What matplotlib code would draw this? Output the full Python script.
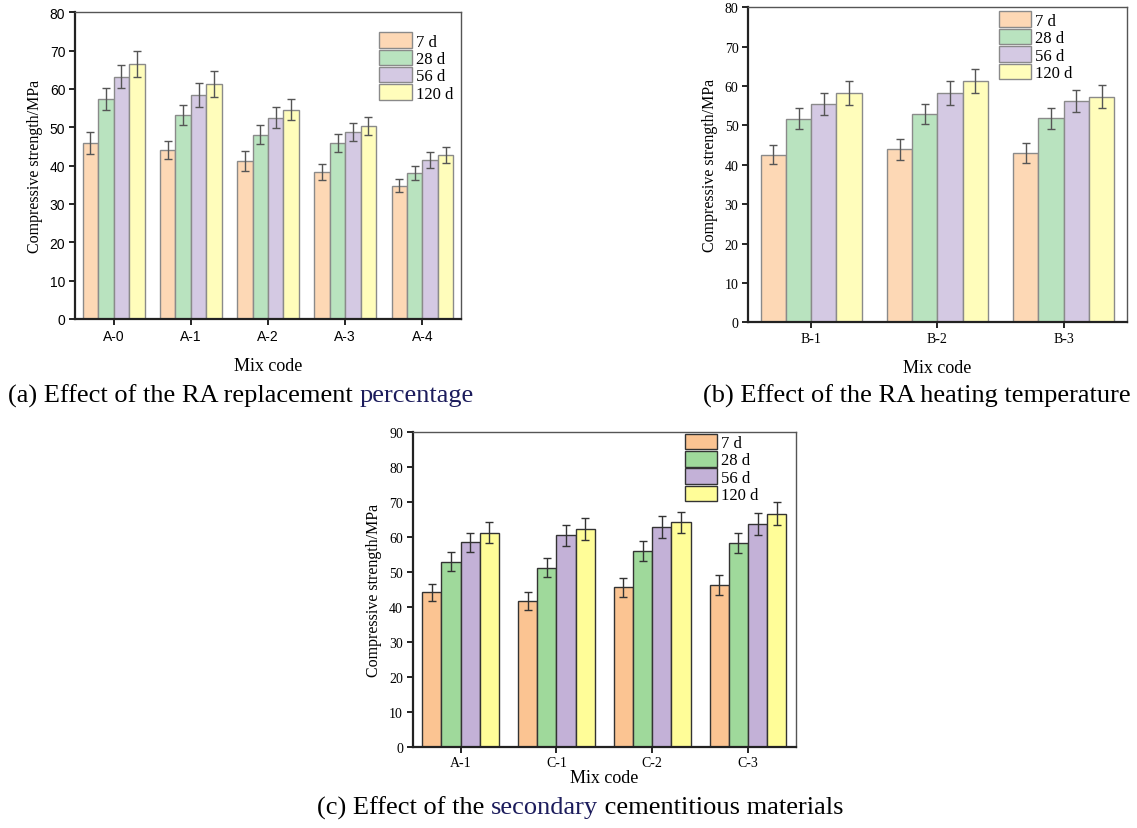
import numpy as np
import matplotlib.pyplot as plt
from matplotlib import transforms

plt.rcParams['font.family'] = ['Liberation Serif', 'DejaVu Serif']

ages = ['7 d', '28 d', '56 d', '120 d']

# (a) RA replacement percentage
mix_a = ['A-0', 'A-1', 'A-2', 'A-3', 'A-4']
val_a = [[46.0, 44.1, 41.2, 38.4, 34.8],
         [57.3, 53.2, 48.1, 45.9, 38.1],
         [63.2, 58.4, 52.5, 48.7, 41.4],
         [66.5, 61.3, 54.6, 50.3, 42.8]]
err_a = [[2.9, 2.3, 2.5, 2.1, 1.7],
         [2.9, 2.6, 2.4, 2.4, 1.8],
         [3.0, 3.1, 2.8, 2.3, 2.1],
         [3.4, 3.3, 2.8, 2.4, 2.0]]

# (b) RA heating temperature
mix_b = ['B-1', 'B-2', 'B-3']
val_b = [[42.6, 43.9, 43.0],
         [51.7, 52.9, 51.8],
         [55.5, 58.3, 56.2],
         [58.3, 61.3, 57.3]]
err_b = [[2.5, 2.7, 2.5],
         [2.6, 2.5, 2.6],
         [2.8, 3.0, 2.9],
         [3.0, 3.0, 2.9]]

# (c) secondary cementitious materials
mix_c = ['A-1', 'C-1', 'C-2', 'C-3']
val_c = [[44.1, 41.6, 45.5, 46.2],
         [52.9, 51.2, 56.0, 58.2],
         [58.4, 60.4, 62.7, 63.6],
         [61.2, 62.2, 64.1, 66.6]]
err_c = [[2.4, 2.5, 2.8, 2.8],
         [2.7, 2.7, 2.8, 2.9],
         [2.8, 3.0, 3.2, 3.2],
         [3.0, 3.1, 3.0, 3.2]]

pale = ['#fdd8b5', '#b9e3bf', '#d4c9e3', '#fffdbb']
bold = ['#fbc492', '#9fd99b', '#c3b1d7', '#fffd98']

fig = plt.figure(figsize=(11.37, 8.29), dpi=100)


def panel(rect, mix, vals, errs, colors, ymax, edge, ecol, tickfont, leg_anchor, xpad):
    ax = fig.add_axes(rect)
    x = np.arange(len(mix))
    w = 0.2
    for i in range(4):
        ax.bar(x + (i - 1.5) * w, vals[i], w, yerr=errs[i], color=colors[i],
               edgecolor=edge, linewidth=1.0, label=ages[i],
               error_kw=dict(ecolor=ecol, elinewidth=1.0, capsize=3, capthick=1.0))
    ax.set_xlim(-0.5, len(mix) - 0.5)
    ax.set_ylim(0, ymax)
    ax.set_yticks(np.arange(0, ymax + 1, 10))
    ax.set_xticks(x)
    ax.set_xticklabels(mix)
    for lab in ax.get_xticklabels() + ax.get_yticklabels():
        lab.set_family(tickfont)
        lab.set_fontsize(10)
    ax.tick_params(direction='out', length=4, width=1.2, pad=3)
    for s in ['left', 'bottom']:
        ax.spines[s].set_linewidth(1.6)
        ax.spines[s].set_color('#222222')
    for s in ['top', 'right']:
        ax.spines[s].set_linewidth(1.0)
        ax.spines[s].set_color('#555555')
    ax.set_xlabel('Mix code', fontsize=13, labelpad=xpad)
    ax.set_ylabel('Compressive strength/MPa', fontsize=11.5, labelpad=5)
    ax.legend(loc='upper left', bbox_to_anchor=leg_anchor, frameon=False,
              fontsize=12, handlelength=1.95, handleheight=1.05,
              labelspacing=0.0, handletextpad=0.25, borderpad=0,
              borderaxespad=0)
    return ax


panel([0.066, 0.614, 0.3395, 0.370], mix_a, val_a, err_a, pale, 80,
      '#8a8a8a', '#555555', ['Liberation Sans', 'DejaVu Sans'], (0.788, 0.935), 10)
panel([0.658, 0.610, 0.333, 0.380], mix_b, val_b, err_b, pale, 80,
      '#8a8a8a', '#555555', ['Liberation Serif'], (0.662, 0.987), 10)
panel([0.363, 0.098, 0.337, 0.380], mix_c, val_c, err_c, bold, 90,
      '#333333', '#333333', ['Liberation Serif'], (0.710, 0.994), 0)

navy = '#1c1c5c'
cap = 19


def caption(x, y, parts):
    # pieces of one caption drawn one after another, so a word can take its own colour
    trans = fig.transFigure
    renderer = fig.canvas.get_renderer()
    for s, c in parts:
        t = fig.text(x, y, s, color=c, fontsize=cap, va='center', ha='left',
                     transform=trans)
        t.draw(renderer)
        ex = t.get_window_extent(renderer)
        trans = transforms.offset_copy(t.get_transform(), x=ex.width, units='dots')


caption(0.007, 1 - 396 / 829, [('(a) Effect of the RA replacement ', 'black'),
                               ('percentage', navy)])
caption(0.618, 1 - 396 / 829, [('(b) Effect of the RA heating temperature', 'black')])
caption(0.279, 1 - 808 / 829, [('(c) Effect of the ', 'black'), ('secondary', navy),
                               (' cementitious materials', 'black')])

fig.savefig('out.png', dpi=100)
